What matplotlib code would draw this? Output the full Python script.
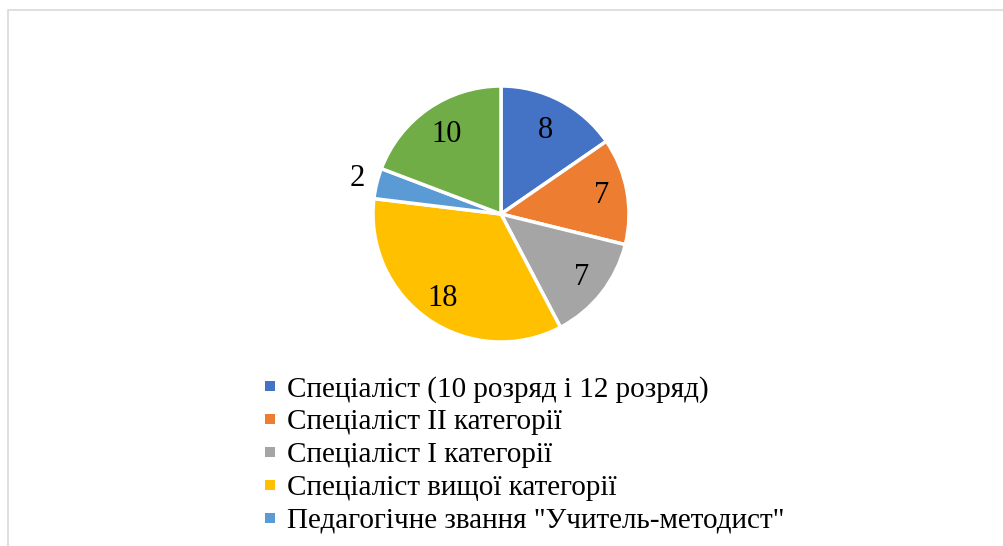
import numpy as np
import matplotlib.pyplot as plt
from matplotlib.patches import Rectangle
from matplotlib.lines import Line2D

plt.rcParams['font.family'] = ['Liberation Serif', 'DejaVu Serif']

labels = ['Спеціаліст (10 розряд і 12 розряд)',
          'Спеціаліст ІІ категорії',
          'Спеціаліст І категорії',
          'Спеціаліст вищої категорії',
          'Педагогічне звання "Учитель-методист"',
          'Інше']
values = [8, 7, 7, 18, 2, 10]
colors = ['#4472C4', '#ED7D31', '#A5A5A5', '#FFC000', '#5B9BD5', '#70AD47']

fig = plt.figure(figsize=(10.04, 5.46), dpi=100)

# light frame around chart area (cut off at right and bottom like the source)
fig.patches.append(Rectangle((8 / 1004, -0.05), 1.2, (546 - 10) / 546 + 0.05,
                             transform=fig.transFigure, fill=False,
                             edgecolor='#d9d9d9', linewidth=1.2))

ax = fig.add_axes([(501 - 150) / 1004, (546 - 214 - 150) / 546, 300 / 1004, 300 / 546])
wedges, texts = ax.pie(values, colors=colors, startangle=90, counterclock=False,
                       radius=128 / 150,
                       wedgeprops=dict(edgecolor='white', linewidth=2.5))
ax.set_xlim(-1, 1)
ax.set_ylim(-1, 1)
ax.set_aspect('equal')

# data labels
dist = [0.74, 0.8, 0.8, 0.8, 1.16, 0.75]
for w, v, d in zip(wedges, values, dist):
    ang = np.deg2rad((w.theta1 + w.theta2) / 2)
    r = w.r * d
    ax.text(r * np.cos(ang), r * np.sin(ang), str(v), ha='center', va='center',
            fontsize=22, color='black')

handles = [Line2D([], [], linestyle='none', marker='s', markersize=6.5,
                  markerfacecolor=c, markeredgewidth=0) for c in colors[:5]]
fig.legend(handles, labels[:5], loc='upper left',
           bbox_to_anchor=(251 / 1004, 1 - 364 / 546), frameon=False,
           fontsize=21, handlelength=0.5, handletextpad=0.35,
           labelspacing=0.22, borderaxespad=0)

fig.savefig('out.png', dpi=100)
